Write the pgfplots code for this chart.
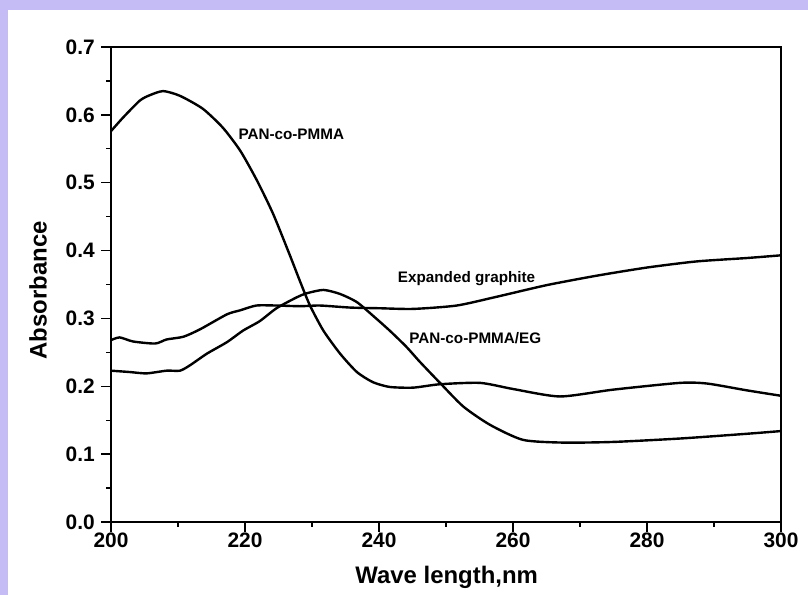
\documentclass[border=0pt]{standalone}
\usepackage{fontspec}
\setmainfont{Liberation Sans}
\usepackage{pgfplots}
\pgfplotsset{compat=1.18}
\definecolor{framecol}{RGB}{197,188,246}

\begin{document}
\begin{tikzpicture}[x=1bp,y=1bp]
\useasboundingbox (0,0) rectangle (808,595);
\fill[framecol] (0,0) rectangle (808,595);
\fill[white] (8,0) rectangle (808,585);
\begin{axis}[
  at={(111bp,73bp)}, anchor=south west,
  scale only axis, width=670bp, height=475bp,
  xmin=200, xmax=300, ymin=0, ymax=0.7,
  xtick={200,220,240,260,280,300},
  ytick={0,0.1,0.2,0.3,0.4,0.5,0.6,0.7},
  minor x tick num=1, minor y tick num=1,
  tick pos=left, tick align=outside,
  major tick length=10bp, minor tick length=5bp,
  every tick/.style={black, line width=1.4bp},
  axis line style={line width=2bp},
  tick label style={font=\bfseries\fontsize{21}{21}\selectfont},
  /pgf/number format/assume math mode=true,
  xticklabel style={anchor=base, inner sep=0pt, yshift=-15.5bp},
  yticklabel style={anchor=east, inner sep=0pt, xshift=-6bp,
    /pgf/number format/fixed, /pgf/number format/fixed zerofill,
    /pgf/number format/precision=1},
  xlabel={Wave length,nm}, ylabel={Absorbance},
  label style={font=\bfseries\fontsize{24}{24}\selectfont},
  xlabel style={at={(axis description cs:0.501,-0.1305)}, anchor=base},
  ylabel style={at={(axis description cs:-0.109,0.488)}, anchor=center},
  clip=false,
]
% PAN-co-PMMA
\addplot[black, line width=2.4bp, smooth, tension=0.4] coordinates {
  (200,0.576)(201.8,0.596)(204.3,0.621)(205.8,0.629)(207.8,0.635)(210.3,0.628)
  (213.7,0.609)(216.7,0.581)(219.3,0.547)(221.8,0.503)(224.2,0.454)(226.7,0.393)
  (228.2,0.355)(229.7,0.319)(231.7,0.282)(234.2,0.248)(236.7,0.221)(239.1,0.206)
  (241.6,0.199)(245.1,0.198)(249.1,0.203)(255.1,0.205)(260.0,0.196)(267.0,0.185)
  (274.9,0.195)(284.9,0.205)(289.0,0.204)(294.9,0.194)(300,0.186)};
% Expanded graphite
\addplot[black, line width=2.4bp, smooth, tension=0.4] coordinates {
  (200,0.268)(201.3,0.272)(203.3,0.266)(206.6,0.263)(208.3,0.269)(210.8,0.273)
  (213.3,0.284)(217.3,0.306)(219.3,0.312)(221.7,0.319)(224.7,0.319)(228.2,0.318)
  (231.2,0.319)(235.7,0.316)(240.1,0.315)(245.1,0.314)(251.6,0.319)(257.6,0.332)
  (265.0,0.349)(272.5,0.363)(280.0,0.375)(287.4,0.384)(294.9,0.389)(300,0.393)};
% PAN-co-PMMA/EG
\addplot[black, line width=2.4bp, smooth, tension=0.4] coordinates {
  (200,0.223)(202.8,0.221)(205.3,0.219)(208.3,0.223)(210.3,0.223)(211.8,0.231)
  (214.3,0.248)(217.3,0.265)(219.7,0.282)(222.2,0.296)(224.7,0.315)(227.7,0.331)
  (229.2,0.337)(231.7,0.342)(234.2,0.336)(236.7,0.324)(239.1,0.304)(241.6,0.282)
  (244.1,0.258)(246.1,0.236)(249.1,0.205)(252.6,0.170)(256.6,0.143)(261.5,0.121)
  (267.5,0.117)(275.0,0.118)(284.9,0.123)(294.9,0.130)(300,0.134)};
\node[anchor=base west, inner sep=0pt, font=\bfseries\fontsize{15.3}{15.3}\selectfont]
  at (axis cs:219.0,0.563) {PAN-co-PMMA};
\node[anchor=base west, inner sep=0pt, font=\bfseries\fontsize{15.3}{15.3}\selectfont]
  at (axis cs:242.8,0.353) {Expanded graphite};
\node[anchor=base west, inner sep=0pt, font=\bfseries\fontsize{15.3}{15.3}\selectfont]
  at (axis cs:244.5,0.263) {PAN-co-PMMA/EG};
\end{axis}
\end{tikzpicture}
\end{document}
